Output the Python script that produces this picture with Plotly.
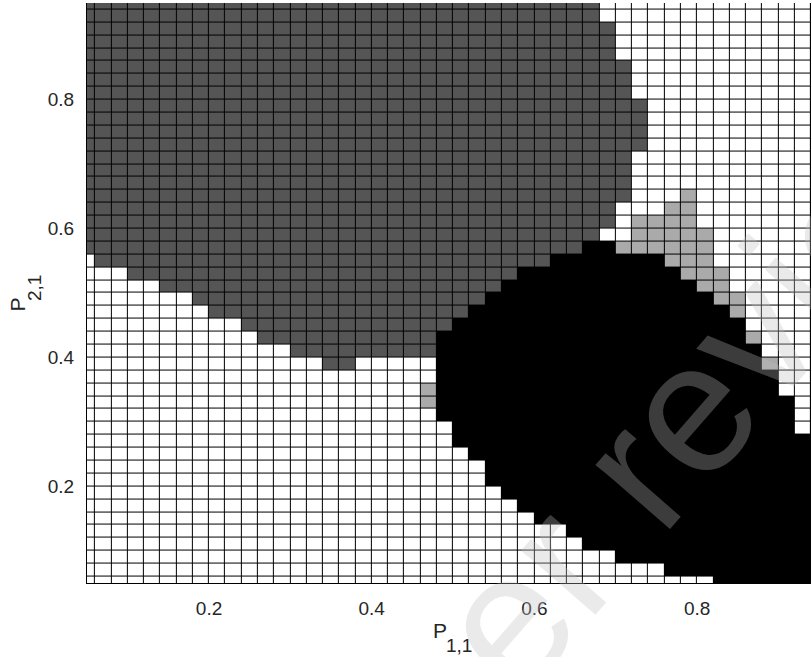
import plotly.graph_objects as go

# Cell centres of the (P11, P21) grid
p11 = [0.05, 0.07, 0.09, 0.11, 0.13, 0.15, 0.17, 0.19, 0.21, 0.23,
       0.25, 0.27, 0.29, 0.31, 0.33, 0.35, 0.37, 0.39, 0.41, 0.43,
       0.45, 0.47, 0.49, 0.51, 0.53, 0.55, 0.57, 0.59, 0.61, 0.63,
       0.65, 0.67, 0.69, 0.71, 0.73, 0.75, 0.77, 0.79, 0.81, 0.83,
       0.85, 0.87, 0.89, 0.91, 0.93]
p21 = [0.95, 0.93, 0.91, 0.89, 0.87, 0.85, 0.83, 0.81, 0.79, 0.77,
       0.75, 0.73, 0.71, 0.69, 0.67, 0.65, 0.63, 0.61, 0.59, 0.57,
       0.55, 0.53, 0.51, 0.49, 0.47, 0.45, 0.43, 0.41, 0.39, 0.37,
       0.35, 0.33, 0.31, 0.29, 0.27, 0.25, 0.23, 0.21, 0.19, 0.17,
       0.15, 0.13, 0.11, 0.09, 0.07, 0.05]

# Region of each cell, one run-length string per P21 row (top to bottom):
# B = black, D = dark grey, L = light grey, W = white
region_rows = [
    "32D 13W",
    "32D 13W",
    "33D 12W",
    "33D 12W",
    "33D 12W",
    "34D 11W",
    "34D 11W",
    "34D 11W",
    "35D 10W",
    "35D 10W",
    "35D 10W",
    "35D 10W",
    "34D 11W",
    "34D 11W",
    "34D 11W",
    "34D 3W 1L 7W",
    "33D 3W 2L 7W",
    "33D 1W 4L 7W",
    "32D 2W 5L 6W",
    "31D 2B 6L 6W",
    "1W 28D 7B 3L 6W",
    "3W 24D 10B 3L 5W",
    "5W 21D 12B 2L 5W",
    "7W 18D 14B 2L 4W",
    "8W 16D 16B 1L 4W",
    "10W 13D 18B 4W",
    "11W 11D 19B 1L 3W",
    "13W 9D 20B 3W",
    "15W 2D 5W 20B 1L 2W",
    "22W 21B 2W",
    "21W 1L 21B 2W",
    "21W 1L 22B 1W",
    "22W 22B 1W",
    "23W 21B 1W",
    "23W 22B",
    "24W 21B",
    "25W 20B",
    "25W 20B",
    "26W 19B",
    "27W 18B",
    "28W 17B",
    "30W 15B",
    "31W 14B",
    "33W 12B",
    "36W 9B",
    "39W 6B",
]

xtick_vals = [0.2, 0.4, 0.6, 0.8]
xtick_text = ["0.2", "0.4", "0.6", "0.8"]
ytick_vals = [0.2, 0.4, 0.6, 0.8]
ytick_text = ["0.2", "0.4", "0.6", "0.8"]

level = {"B": 0, "D": 1, "L": 2, "W": 3}


def expand(row):
    cells = []
    for run in row.split():
        cells += [level[run[-1]]] * int(run[:-1])
    assert len(cells) == len(p11), row
    return cells


z = [expand(r) for r in region_rows]

W, H = 811, 657
L_M, R_M, T_M, B_M = 87, 0, 3, 74
PW, PH = W - L_M - R_M, H - T_M - B_M


def px(xp, yp):
    """pixel position -> paper coordinates"""
    return (xp - L_M) / PW, (H - B_M - yp) / PH


fig = go.Figure(go.Heatmap(
    x=p11, y=p21, z=z,
    zmin=0, zmax=3,
    colorscale=[[0, "#000000"], [1 / 3, "#555555"], [2 / 3, "#aaaaaa"], [1, "#ffffff"]],
    showscale=False, xgap=1, ygap=1, hoverinfo="skip",
))

font = "Liberation Sans, Arial, Helvetica, sans-serif"
tick_col = "#262626"

fig.update_layout(
    width=W, height=H,
    margin=dict(l=L_M, r=R_M, t=T_M, b=B_M, pad=0),
    paper_bgcolor="white", plot_bgcolor="black",
    showlegend=False,
    font=dict(family=font, color=tick_col),
    xaxis=dict(range=[0.05, 0.94], tickvals=xtick_vals, ticktext=xtick_text,
               showgrid=False, zeroline=False, showline=True, linecolor="black",
               linewidth=1, ticks="", ticklabelstandoff=8,
               tickfont=dict(size=19, color=tick_col, family=font)),
    yaxis=dict(range=[0.05, 0.95], tickvals=ytick_vals, ticktext=ytick_text,
               showgrid=False, zeroline=False, showline=True, linecolor="black",
               linewidth=1, ticks="", ticklabelstandoff=8,
               tickfont=dict(size=19, color=tick_col, family=font)),
)

annotations = []


def label(text, xp, yp, size, angle=0):
    ax, ay = px(xp, yp)
    annotations.append(dict(text=text, x=ax, y=ay, xref="paper", yref="paper",
                            xanchor="center", yanchor="middle", showarrow=False,
                            textangle=angle,
                            font=dict(size=size, color=tick_col, family=font)))


# axis titles P_{1,1} and P_{2,1}
label("P", 440, 630, 21)
label("1,1", 459.5, 645, 19)
label("P", 16.5, 305, 21, -90)
label("2,1", 34, 288, 19, -90)

# diagonal watermark, semi-transparent over the whole figure
wx, wy = px(643, 461)
annotations.append(dict(text="Peer review", x=wx, y=wy, xref="paper", yref="paper",
                        xanchor="center", yanchor="middle", showarrow=False,
                        textangle=-49, opacity=0.314,
                        font=dict(size=186, color="rgb(191,191,191)", family=font)))

fig.update_layout(annotations=annotations)

fig.write_html("out.html")
